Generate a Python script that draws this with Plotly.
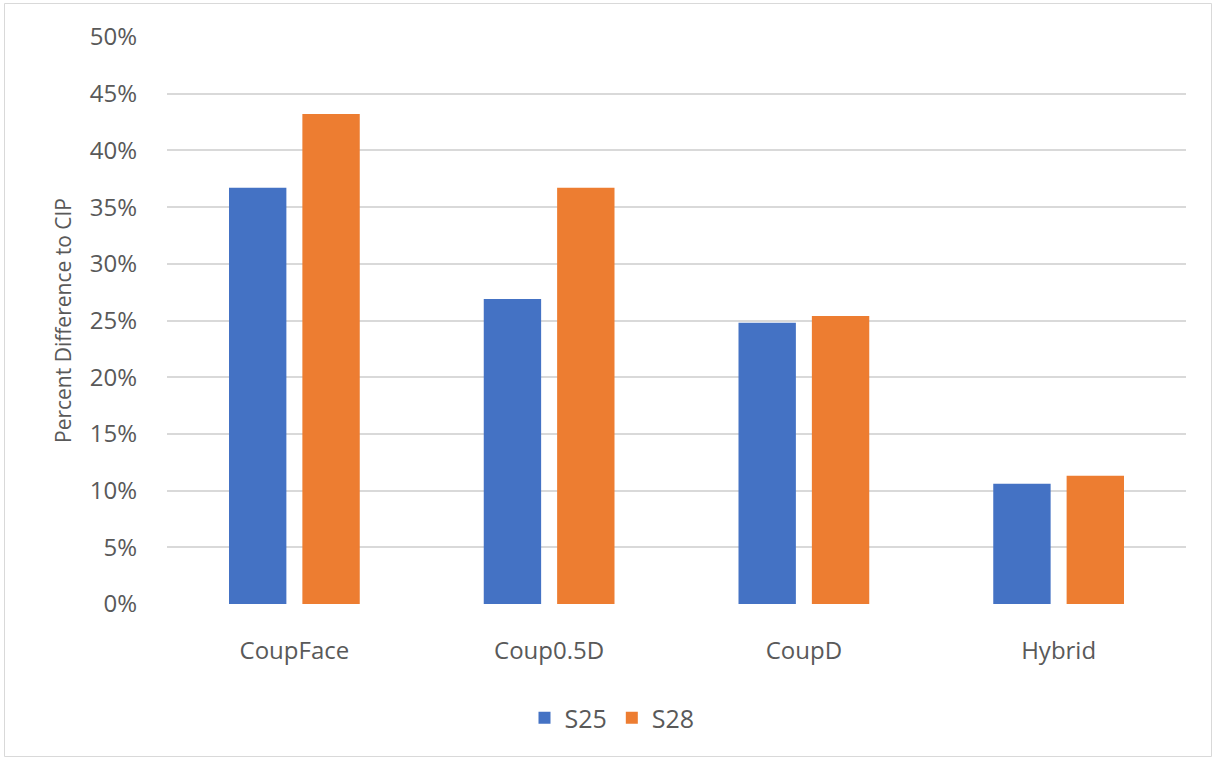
import plotly.graph_objects as go

# Methods compared, and percent difference to CIP for each specimen
categories = ["CoupFace", "Coup0.5D", "CoupD", "Hybrid"]
s25_values = [36.7, 26.9, 24.8, 10.6]
s28_values = [43.2, 36.7, 25.4, 11.3]
y_ticks = [0, 5, 10, 15, 20, 25, 30, 35, 40, 45, 50]
y_tick_labels = [f"{v}%" for v in y_ticks]

FONT = "Open Sans, Noto Sans, sans-serif"
TEXT_COLOR = "#595959"

fig = go.Figure()
fig.add_trace(go.Bar(name="S25", x=categories, y=s25_values,
                     marker=dict(color="#4472C4", line=dict(width=0))))
fig.add_trace(go.Bar(name="S28", x=categories, y=s28_values,
                     marker=dict(color="#ED7D31", line=dict(width=0))))

W, H = 1213, 760
ml, mr, mt, mb = 167, 27, 37, 156
pw, ph = W - ml - mr, H - mt - mb


def px_to_paper_x(px):
    return (px - ml) / pw


def px_to_paper_y(py):
    return (H - mb - py) / ph


fig.update_layout(
    width=W, height=H,
    margin=dict(l=ml, r=mr, t=mt, b=mb, pad=0),
    paper_bgcolor="white", plot_bgcolor="white",
    barmode="group", bargap=0.424, bargroupgap=0.218,
    font=dict(family=FONT, color=TEXT_COLOR, size=24),
    showlegend=True,
    legend=dict(orientation="h", x=px_to_paper_x(612), xanchor="center",
                y=px_to_paper_y(718), yanchor="middle",
                font=dict(size=25, color=TEXT_COLOR, family=FONT),
                bgcolor="rgba(0,0,0,0)"),
    xaxis=dict(showgrid=False, showline=False, zeroline=False, ticks="",
               tickfont=dict(size=24, color=TEXT_COLOR, family=FONT),
               ticklabelstandoff=30),
    yaxis=dict(range=[0, 50], tickvals=y_ticks, ticktext=y_tick_labels,
               showgrid=True, gridcolor="#D9D9D9", gridwidth=1.5,
               zeroline=False, showline=False, ticks="",
               tickfont=dict(size=24, color=TEXT_COLOR, family=FONT),
               ticklabelstandoff=29,
               title=dict(text="Percent Difference to CIP", standoff=12,
                          font=dict(size=21, color=TEXT_COLOR, family=FONT))),
    shapes=[dict(type="rect", xref="paper", yref="paper",
                 x0=px_to_paper_x(4.5), x1=px_to_paper_x(1211.5),
                 y0=px_to_paper_y(756.5), y1=px_to_paper_y(3.5),
                 line=dict(color="#D9D9D9", width=1), fillcolor="rgba(0,0,0,0)",
                 layer="below")],
)

fig.write_html("out.html")
